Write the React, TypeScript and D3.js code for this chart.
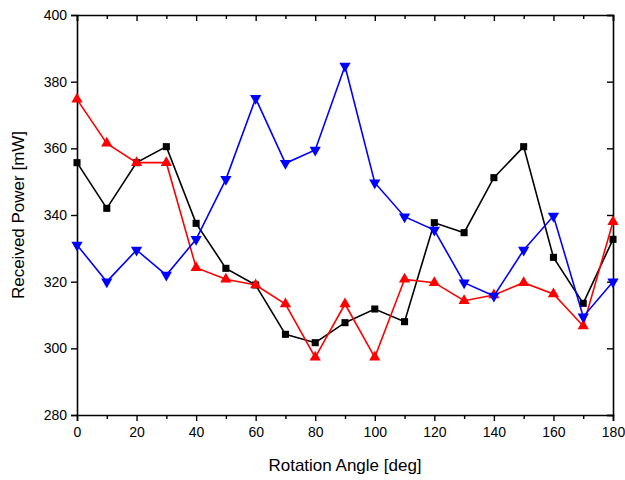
import { useEffect, useRef } from 'react';
import * as d3 from 'd3';

// angles in degrees
const angles = [0, 10, 20, 30, 40, 50, 60, 70, 80, 90, 100, 110, 120, 130, 140, 150, 160, 170, 180];

// received power [mW]
const blackSeries = [355.7, 342.0, 355.7, 360.5, 337.5, 324.0, 319.0, 304.2, 301.7, 307.7, 311.8, 308.0, 337.7, 334.7, 351.2, 360.5, 327.3, 313.5, 332.7];
const redSeries = [374.7, 361.5, 355.7, 355.7, 324.2, 320.7, 319.0, 313.3, 297.3, 313.3, 297.3, 320.7, 319.7, 314.3, 316.0, 319.7, 316.3, 306.7, 338.0];
const blueSeries = [331.0, 320.0, 329.5, 322.0, 332.7, 350.7, 375.0, 355.5, 359.5, 384.7, 349.7, 339.5, 335.5, 319.7, 315.7, 329.5, 339.7, 309.5, 320.0];

const xTicks = [0, 20, 40, 60, 80, 100, 120, 140, 160, 180];
const xMinorTicks = [10, 30, 50, 70, 90, 110, 130, 150, 170];
const yTicks = [280, 300, 320, 340, 360, 380, 400];

const App = () => {
    const svgRef = useRef<SVGSVGElement>(null);

    useEffect(() => {
        const W = 625;
        const H = 480;
        const margin = { top: 15, right: 12, bottom: 65, left: 77 };
        const width = W - margin.left - margin.right;
        const height = H - margin.top - margin.bottom;

        const svg = d3.select(svgRef.current);
        svg.selectAll('*').remove();
        svg.attr('width', W).attr('height', H);

        const g = svg.append('g').attr('transform', `translate(${margin.left},${margin.top})`);

        const x = d3.scaleLinear().domain([0, 180]).range([0, width]);
        const y = d3.scaleLinear().domain([280, 400]).range([height, 0]);

        const font = 'Liberation Sans, Arial, sans-serif';

        // bottom axis (outward ticks)
        const bottom = g.append('g')
            .attr('transform', `translate(0,${height})`)
            .call(d3.axisBottom(x).tickValues(xTicks).tickSize(6).tickPadding(6).tickFormat(d3.format('d')));
        g.append('g')
            .attr('transform', `translate(0,${height})`)
            .call(d3.axisBottom(x).tickValues(xMinorTicks).tickSize(4).tickFormat(() => ''))
            .select('.domain').remove();

        // top axis (inward ticks)
        g.append('g')
            .call(d3.axisBottom(x).tickValues(xTicks).tickSize(6).tickFormat(() => ''));
        g.append('g')
            .call(d3.axisBottom(x).tickValues(xMinorTicks).tickSize(4).tickFormat(() => ''))
            .select('.domain').remove();

        // left axis (outward ticks)
        const left = g.append('g')
            .call(d3.axisLeft(y).tickValues(yTicks).tickSize(6).tickPadding(4).tickFormat(d3.format('d')));

        // right axis (inward ticks)
        g.append('g')
            .attr('transform', `translate(${width},0)`)
            .call(d3.axisLeft(y).tickValues(yTicks).tickSize(6).tickFormat(() => ''));

        g.selectAll('.domain').attr('stroke', '#000').attr('stroke-width', 1.6);
        g.selectAll('.tick line').attr('stroke', '#000').attr('stroke-width', 1.4);
        g.selectAll('text').attr('font-family', font);
        bottom.selectAll('text').attr('font-size', 14).attr('fill', '#000');
        left.selectAll('text').attr('font-size', 14).attr('fill', '#000');

        // series
        const series = [
            { values: blackSeries, color: '#000000', symbol: d3.symbolSquare, size: 50, rotate: 0 },
            { values: redSeries, color: '#ff0000', symbol: d3.symbolTriangle, size: 55, rotate: 0 },
            { values: blueSeries, color: '#0000ff', symbol: d3.symbolTriangle, size: 55, rotate: 180 },
        ];

        const line = d3.line<number>()
            .x((d, i) => x(angles[i]))
            .y(d => y(d));

        series.forEach(s => {
            g.append('path')
                .datum(s.values)
                .attr('fill', 'none')
                .attr('stroke', s.color)
                .attr('stroke-width', 1.6)
                .attr('d', line);

            g.selectAll(null)
                .data(s.values)
                .enter().append('path')
                .attr('d', d3.symbol().type(s.symbol).size(s.size)())
                .attr('transform', (d, i) => `translate(${x(angles[i])},${y(d)}) rotate(${s.rotate})`)
                .attr('fill', s.color);
        });

        // axis titles
        svg.append('text')
            .attr('x', margin.left + width / 2)
            .attr('y', 471)
            .attr('text-anchor', 'middle')
            .attr('font-family', font)
            .attr('font-size', 17)
            .text('Rotation Angle [deg]');

        svg.append('text')
            .attr('transform', `translate(24,${margin.top + height / 2}) rotate(-90)`)
            .attr('text-anchor', 'middle')
            .attr('font-family', font)
            .attr('font-size', 17)
            .text('Received Power [mW]');
    }, []);

    return (
        <svg ref={svgRef} style={{ position: 'absolute', left: 0, top: 0 }}></svg>
    );
};

export default App;
